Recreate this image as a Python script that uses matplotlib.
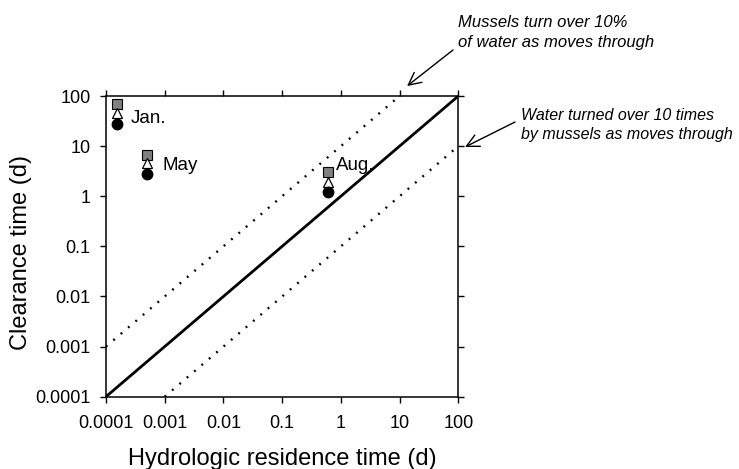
import matplotlib
matplotlib.use("Agg")
import matplotlib.pyplot as plt
import numpy as np

plt.rcParams['font.family'] = ['Liberation Sans', 'DejaVu Sans']

months = ["Jan.", "May", "Aug."]
residence = [0.000156, 0.0005, 0.60]
clear_square = [69, 6.7, 3.1]
clear_triangle = [45.5, 4.5, 1.9]
clear_circle = [27.3, 2.75, 1.2]

line_x = [0.0001, 100]
upper_x = [0.0001, 10]
lower_x = [0.001, 100]

ticks = [0.0001, 0.001, 0.01, 0.1, 1, 10, 100]
tick_labels = ["0.0001", "0.001", "0.01", "0.1", "1", "10", "100"]

fig = plt.figure(figsize=(7.39, 4.69), dpi=100)
ax = fig.add_axes([0.1434, 0.1542, 0.6202 - 0.1434, 0.7953 - 0.1542])
ax.set_xscale('log')
ax.set_yscale('log')
ax.set_xlim(0.0001, 100)
ax.set_ylim(0.0001, 100)

ax.plot(line_x, line_x, color='black', lw=2.0, solid_capstyle='butt')
ax.plot(upper_x, [v * 10 for v in upper_x], color='black', lw=1.7, linestyle=(0, (0.8, 3.3)))
ax.plot(lower_x, [v / 10 for v in lower_x], color='black', lw=1.7, linestyle=(0, (0.8, 3.3)))

ax.plot(residence, clear_square, linestyle='none', marker='s', markersize=7.5,
        markerfacecolor='#808080', markeredgecolor='black', markeredgewidth=0.8, clip_on=False)
ax.plot(residence, clear_triangle, linestyle='none', marker='^', markersize=7.5,
        markerfacecolor='white', markeredgecolor='black', markeredgewidth=0.9, clip_on=False)
ax.plot(residence, clear_circle, linestyle='none', marker='o', markersize=7.5,
        markerfacecolor='black', markeredgecolor='black', clip_on=False)

label_offsets = [(13, -5), (15, -2), (8, 17)]
for m, x, y, off in zip(months, residence, clear_triangle, label_offsets):
    ax.annotate(m, xy=(x, y), xytext=off, textcoords='offset pixels',
                fontsize=13.5, ha='left', va='center')

ax.set_xticks(ticks)
ax.set_xticklabels(tick_labels)
ax.set_yticks(ticks)
ax.set_yticklabels(tick_labels)
ax.minorticks_off()
ax.tick_params(axis='both', which='major', direction='out', length=4, width=1,
               labelsize=13, top=True, right=True)
ax.tick_params(axis='x', pad=9)
ax.tick_params(axis='y', pad=7)
for s in ax.spines.values():
    s.set_linewidth(1.1)

ax.set_xlabel("Hydrologic residence time (d)", fontsize=17, labelpad=12)
ax.set_ylabel("Clearance time (d)", fontsize=17, labelpad=0)
ax.yaxis.set_label_coords(-0.210, 0.481)

# annotations
fig.text(458 / 739, 1 - 15 / 469, "Mussels turn over 10%\nof water as moves through",
         fontsize=12, style='italic', ha='left', va='top', linespacing=1.45)
fig.text(521 / 739, 1 - 108 / 469, "Water turned over 10 times\nby mussels as moves through",
         fontsize=11.5, style='italic', ha='left', va='top', linespacing=1.3)

arrow = dict(arrowstyle='->,head_length=0.9,head_width=0.45', color='black', lw=1.0,
             shrinkA=0, shrinkB=0)
ax.annotate('', xy=(13.4, 158), xycoords='data',
            xytext=(453 / 739, 1 - 50 / 469), textcoords='figure fraction',
            arrowprops=arrow, annotation_clip=False)
ax.annotate('', xy=(130, 9.6), xycoords='data',
            xytext=(515 / 739, 1 - 122 / 469), textcoords='figure fraction',
            arrowprops=arrow, annotation_clip=False)

fig.savefig('out.png', dpi=100)
